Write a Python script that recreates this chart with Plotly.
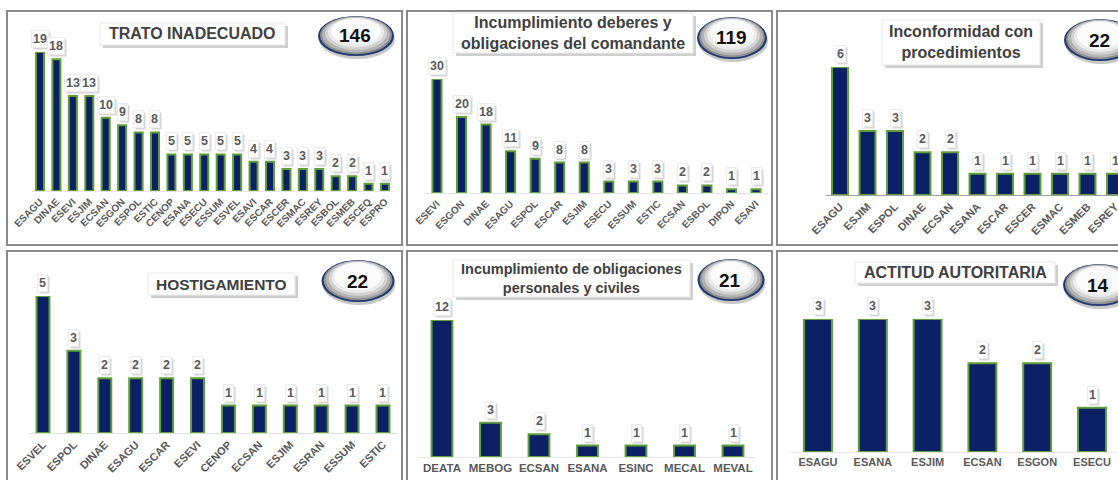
import plotly.graph_objects as go

W, H = 1118, 480

# ---------------- data ----------------
titles = [
    "TRATO INADECUADO",
    "Incumplimiento deberes y<br>obligaciones del comandante",
    "Inconformidad con<br>procedimientos",
    "HOSTIGAMIENTO",
    "Incumplimiento de obligaciones<br>personales y civiles",
    "ACTITUD AUTORITARIA",
]
totals = [146, 119, 22, 22, 21, 14]

cats_1 = ["ESAGU", "DINAE", "ESEVI", "ESJIM", "ECSAN", "ESGON", "ESPOL", "ESTIC",
          "CENOP", "ESANA", "ESECU", "ESSUM", "ESVEL", "ESAVI", "ESCAR", "ESCER",
          "ESMAC", "ESREY", "ESBOL", "ESMEB", "ESCEQ", "ESPRO"]
vals_1 = [19, 18, 13, 13, 10, 9, 8, 8, 5, 5, 5, 5, 5, 4, 4, 3, 3, 3, 2, 2, 1, 1]

cats_2 = ["ESEVI", "ESGON", "DINAE", "ESAGU", "ESPOL", "ESCAR", "ESJIM", "ESECU",
          "ESSUM", "ESTIC", "ECSAN", "ESBOL", "DIPON", "ESAVI"]
vals_2 = [30, 20, 18, 11, 9, 8, 8, 3, 3, 3, 2, 2, 1, 1]

cats_3 = ["ESAGU", "ESJIM", "ESPOL", "DINAE", "ECSAN", "ESANA", "ESCAR", "ESCER",
          "ESMAC", "ESMEB", "ESREY"]
vals_3 = [6, 3, 3, 2, 2, 1, 1, 1, 1, 1, 1]

cats_4 = ["ESVEL", "ESPOL", "DINAE", "ESAGU", "ESCAR", "ESEVI", "CENOP", "ECSAN",
          "ESJIM", "ESRAN", "ESSUM", "ESTIC"]
vals_4 = [5, 3, 2, 2, 2, 2, 1, 1, 1, 1, 1, 1]

cats_5 = ["DEATA", "MEBOG", "ECSAN", "ESANA", "ESINC", "MECAL", "MEVAL"]
vals_5 = [12, 3, 2, 1, 1, 1, 1]

cats_6 = ["ESAGU", "ESANA", "ESJIM", "ECSAN", "ESGON", "ESECU"]
vals_6 = [3, 3, 3, 2, 2, 1]

all_cats = [cats_1, cats_2, cats_3, cats_4, cats_5, cats_6]
all_vals = [vals_1, vals_2, vals_3, vals_4, vals_5, vals_6]

# ---------------- layout (pixels) ----------------
panel_boxes = [(7, 11, 402, 245), (407, 11, 772, 245), (777, 11, 1135, 245),
               (7, 251, 402, 495), (407, 251, 772, 495), (777, 251, 1135, 495)]
first_last = [(40, 385), (437, 756), (840, 1115), (43, 383), (442, 733), (818, 1092)]
base_top = [(191, 52), (193, 79), (195, 67), (433, 296), (457, 320), (452, 319)]
bar_w = [0.49, 0.37, 0.58, 0.42, 0.43, 0.51]
tick_angle = [-45, -45, -45, -45, 0, 0]
tick_size = [10, 10, 11, 11, 11.5, 11]
axis_line = ["#e6e6e6", "#dde6f0", "#a0a0a0", "#e0e0e0", "#e6e6e6", "#e6e6e6"]
title_box = [(100, 23, 285, 45), (453, 13, 693, 53), (882, 20, 1040, 65),
             (148, 273, 295, 295), (453, 260, 690, 297), (855, 262, 1055, 283)]
title_size = [16, 16, 16, 15.5, 14.5, 16]
oval = [(356, 36, 76, 40), (732, 38, 70, 42), (1100, 40, 72, 42),
        (358, 281, 73, 42), (731, 280, 67, 42), (1099, 285, 72, 42)]

FONT = "Liberation Sans, Arial, sans-serif"
NAVY = "#0c2165"
GREEN = "#5f9e3a"
LABEL = "#595959"
TITLE = "#404040"


def px(x):
    return x / W


def py(y):
    return 1 - y / H


fig = go.Figure()
shapes = []
annotations = []
layout_axes = {}

# panel frames
for (x0, y0, x1, y1) in panel_boxes:
    shapes.append(dict(type="rect", xref="paper", yref="paper",
                       x0=px(x0), x1=px(x1), y0=py(y1), y1=py(y0),
                       line=dict(color="#8a8a8a", width=2), fillcolor="white", layer="below"))

for i in range(6):
    k = i + 1
    xr = "x" if k == 1 else f"x{k}"
    yr = "y" if k == 1 else f"y{k}"
    xa = "xaxis" if k == 1 else f"xaxis{k}"
    ya = "yaxis" if k == 1 else f"yaxis{k}"
    cats, vals = all_cats[i], all_vals[i]
    n = len(cats)
    f, l = first_last[i]
    step = (l - f) / (n - 1)
    d0 = f - step / 2
    d1 = l + step / 2
    hi = n - 0.5
    if d1 > W:
        hi -= (d1 - W) / step
        d1 = W
    base, top = base_top[i]

    fig.add_trace(go.Bar(
        x=cats, y=vals, xaxis=xr, yaxis=yr, width=bar_w[i],
        marker=dict(color=NAVY, line=dict(color=GREEN, width=2)),
        hoverinfo="skip", showlegend=False))

    layout_axes[xa] = dict(
        domain=[px(d0), px(d1)], range=[-0.5, hi], type="category",
        anchor=yr, tickangle=tick_angle[i], showgrid=False, zeroline=False,
        ticks="", showline=True, linecolor=axis_line[i], linewidth=1,
        automargin=False,
        tickfont=dict(family=FONT, size=tick_size[i], color=LABEL, weight="bold"),
        fixedrange=True)
    layout_axes[ya] = dict(
        domain=[py(base), py(top)], range=[0, max(vals)], anchor=xr,
        visible=False, automargin=False, fixedrange=True)

    # data labels (shadow + box)
    for c, v in zip(cats, vals):
        annotations.append(dict(
            x=c, y=v, xref=xr, yref=yr, yanchor="bottom", yshift=2, xshift=2,
            text=f"<b>{v}</b>", showarrow=False, bgcolor="#d6d6d6", borderpad=1,
            font=dict(family=FONT, size=12.5, color="#d6d6d6")))
        annotations.append(dict(
            x=c, y=v, xref=xr, yref=yr, yanchor="bottom", yshift=4,
            text=f"<b>{v}</b>", showarrow=False, bgcolor="white", borderpad=1,
            bordercolor="#ececec", borderwidth=1,
            font=dict(family=FONT, size=12.5, color=LABEL)))

    # title box with shadow
    tx0, ty0, tx1, ty1 = title_box[i]
    shapes.append(dict(type="rect", xref="paper", yref="paper",
                       x0=px(tx0 + 3), x1=px(tx1 + 3), y0=py(ty1 + 3), y1=py(ty0 + 3),
                       line=dict(width=0), fillcolor="#cfcfcf"))
    shapes.append(dict(type="rect", xref="paper", yref="paper",
                       x0=px(tx0), x1=px(tx1), y0=py(ty1), y1=py(ty0),
                       line=dict(color="#e8e8e8", width=1), fillcolor="white"))
    annotations.append(dict(
        x=px((tx0 + tx1) / 2), y=py((ty0 + ty1) / 2), xref="paper", yref="paper",
        text=f"<b>{titles[i]}</b>", showarrow=False, xanchor="center", yanchor="middle",
        font=dict(family=FONT, size=title_size[i], color=TITLE)))

    # oval with total (silver gradient, navy rim, drop shadow)
    cx, cy, ow, oh = oval[i]
    shapes.append(dict(type="circle", xref="paper", yref="paper",
                       x0=px(cx - ow / 2 + 1), x1=px(cx + ow / 2 + 1),
                       y0=py(cy + oh / 2 + 3), y1=py(cy - oh / 2 + 3),
                       line=dict(width=0), fillcolor="#c8c8c8"))
    layers = [(0, "#1f3a70"), (2, "#8f8f8f"), (4, "#b3b3b3"), (7, "#d2d2d2"),
              (10, "#ebebeb"), (13, "#fafafa")]
    for inset, col in layers:
        lift = inset * 0.35
        shapes.append(dict(type="circle", xref="paper", yref="paper",
                           x0=px(cx - ow / 2 + inset), x1=px(cx + ow / 2 - inset),
                           y0=py(cy + oh / 2 - inset * 0.55 - lift),
                           y1=py(cy - oh / 2 + inset * 0.55 - lift),
                           line=dict(width=0), fillcolor=col))
    annotations.append(dict(
        x=px(cx - 1), y=py(cy), xref="paper", yref="paper",
        text=f"<b>{totals[i]}</b>", showarrow=False, xanchor="center", yanchor="middle",
        font=dict(family=FONT, size=19, color="#111111")))

fig.update_layout(
    width=W, height=H, margin=dict(l=0, r=0, t=0, b=0, pad=0, autoexpand=False),
    paper_bgcolor="white", plot_bgcolor="rgba(0,0,0,0)",
    showlegend=False, shapes=shapes, annotations=annotations,
    **layout_axes)

fig.write_html("out.html", config={"displayModeBar": False},
               post_script="document.body.style.margin='0';document.body.style.overflow='hidden';")
